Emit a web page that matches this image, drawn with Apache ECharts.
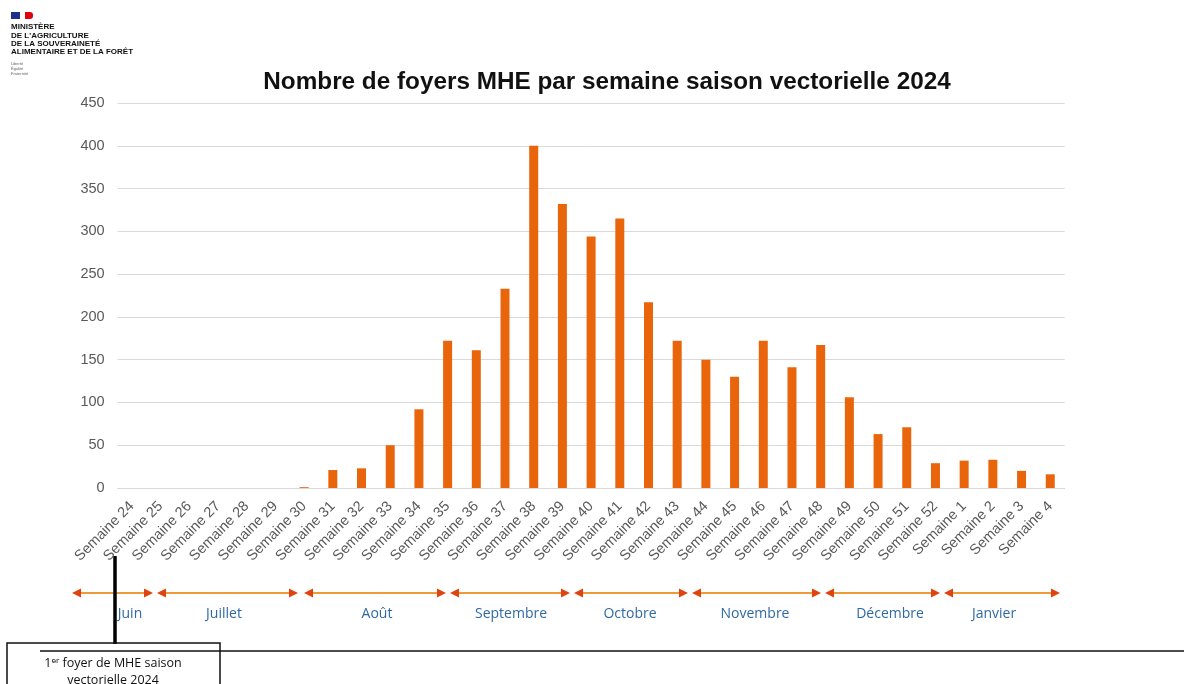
<!DOCTYPE html>
<html>
<head>
<meta charset="utf-8">
<script src="https://cdn.jsdelivr.net/npm/echarts@6/dist/echarts.min.js"></script>
<style>
html,body{margin:0;padding:0;background:#fff;}
#c{width:1184px;height:684px;}
</style>
</head>
<body>
<div id="c"></div>
<script>
// ---- data ----
var weeks = ['Semaine 24','Semaine 25','Semaine 26','Semaine 27','Semaine 28','Semaine 29','Semaine 30',
  'Semaine 31','Semaine 32','Semaine 33','Semaine 34','Semaine 35','Semaine 36','Semaine 37','Semaine 38',
  'Semaine 39','Semaine 40','Semaine 41','Semaine 42','Semaine 43','Semaine 44','Semaine 45','Semaine 46',
  'Semaine 47','Semaine 48','Semaine 49','Semaine 50','Semaine 51','Semaine 52','Semaine 1','Semaine 2',
  'Semaine 3','Semaine 4'];
var foyers = [0,0,0,0,0,0,1,21,23,50,92,172,161,233,400,332,294,315,217,172,150,130,172,141,167,106,63,71,29,32,33,20,16];
var yTicks = [0,50,100,150,200,250,300,350,400,450];
var months = ['Juin','Juillet','Août','Septembre','Octobre','Novembre','Décembre','Janvier'];
var titleText = 'Nombre de foyers MHE par semaine saison vectorielle 2024';
var noteLines = ['1\u1D49\u02B3 foyer de MHE saison','vectorielle 2024'];

// ---- layout of decorations (pixels) ----
var arrowSpans = [[72,153],[157,298],[304,446],[450,570],[574,688],[692,821],[825,940],[944,1060]];
var monthCenters = [130,224,377,511,630,755,890,994];
var arrowY = 593, monthY = 614;

var graphics = [];
// logo
graphics.push({type:'rect',shape:{x:11,y:12,width:9,height:7},style:{fill:'#1d2f8f'}});
graphics.push({type:'rect',shape:{x:25,y:12,width:8,height:7,r:[0,3,3,0]},style:{fill:'#e1000f'}});
var logoLines = ['MINISTÈRE',"DE L'AGRICULTURE",'DE LA SOUVERAINETÉ','ALIMENTAIRE ET DE LA FORÊT'];
logoLines.forEach(function(t,i){
  graphics.push({type:'text',left:11,top:23+i*8.4,style:{text:t,font:'bold 8px "Liberation Sans", Arial',fill:'#111'}});
});
['Liberté','Égalité','Fraternité'].forEach(function(t,i){
  graphics.push({type:'text',left:11,top:62+i*5,style:{text:t,font:'4px "Liberation Sans", Arial',fill:'#666'}});
});
// month arrows
arrowSpans.forEach(function(s){
  var a=s[0], b=s[1], y=arrowY;
  graphics.push({type:'line',shape:{x1:a+4,y1:y,x2:b-4,y2:y},style:{stroke:'#ee9a3a',lineWidth:2}});
  graphics.push({type:'polygon',shape:{points:[[a,y],[a+9,y-4.5],[a+9,y+4.5]]},style:{fill:'#e0440e'}});
  graphics.push({type:'polygon',shape:{points:[[b,y],[b-9,y-4.5],[b-9,y+4.5]]},style:{fill:'#e0440e'}});
});
months.forEach(function(m,i){
  graphics.push({type:'text',x:monthCenters[i],y:monthY,style:{text:m,font:'14px "Open Sans", "Noto Sans", sans-serif',fill:'#2f69a3',textAlign:'center',textVerticalAlign:'middle'}});
});
// annotation
graphics.push({type:'line',shape:{x1:115,y1:556,x2:115,y2:644},style:{stroke:'#000',lineWidth:3.5}});
graphics.push({type:'rect',shape:{x:7,y:643,width:213,height:50},style:{fill:'none',stroke:'#111',lineWidth:1.5}});
graphics.push({type:'line',shape:{x1:40,y1:651,x2:1184,y2:651},style:{stroke:'#111',lineWidth:1.5}});
noteLines.forEach(function(t,i){
  graphics.push({type:'text',x:113,y:663+i*17,style:{text:t,font:'12.5px "Open Sans", "Noto Sans", sans-serif',fill:'#111',textAlign:'center',textVerticalAlign:'middle'}});
});

var chart = echarts.init(document.getElementById('c'));
chart.setOption({
  backgroundColor:'#fff',
  animation:false,
  title:{text:titleText,left:602,top:65,textAlign:'center',
    textStyle:{fontFamily:'"Liberation Sans", Arial',fontWeight:'bold',fontSize:24.3,color:'#111'}},
  grid:{left:117.6,right:119.4,top:103,bottom:196,containLabel:false},
  xAxis:{type:'category',data:weeks,
    axisLine:{show:true,lineStyle:{color:'#d9d9d9',width:1}},
    axisTick:{show:false},
    axisLabel:{interval:0,rotate:45,margin:16,fontSize:14.5,color:'#595959',fontFamily:'"Liberation Sans", Arial'}},
  yAxis:{type:'value',min:yTicks[0],max:yTicks[yTicks.length-1],interval:yTicks[1]-yTicks[0],
    axisLine:{show:false},axisTick:{show:false},
    axisLabel:{margin:13,fontSize:14.5,color:'#595959',fontFamily:'"Liberation Sans", Arial'},
    splitLine:{lineStyle:{color:'#d9d9d9',width:1}}},
  series:[{type:'bar',data:foyers,barWidth:9,itemStyle:{color:'#e9650c'}}],
  graphic:graphics
});
</script>
</body>
</html>
